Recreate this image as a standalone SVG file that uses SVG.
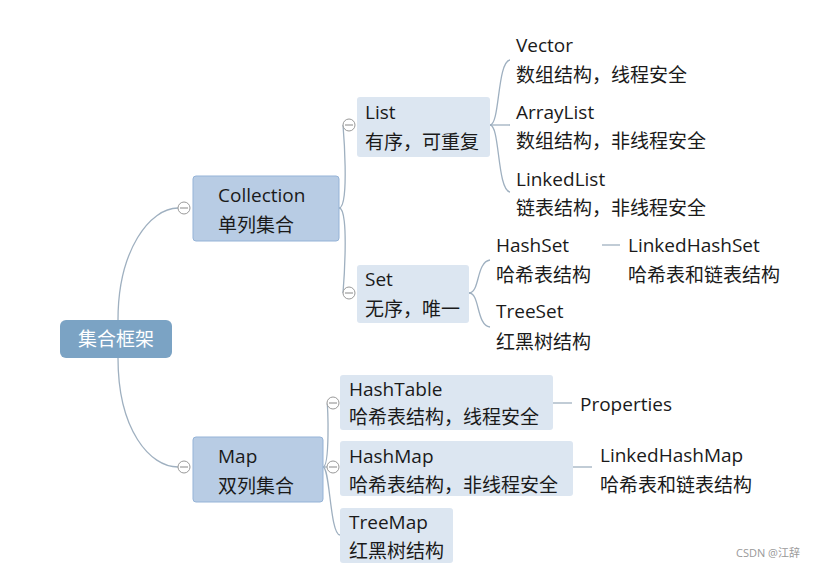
<svg xmlns="http://www.w3.org/2000/svg" width="828" height="569" viewBox="0 0 828 569">
<style>
text{font-family:"Open Sans","Noto Sans CJK SC",sans-serif;font-size:19px;fill:#1a1a1a}
.c{fill:none;stroke:#9fb0c0;stroke-width:1.3}
.b1{fill:#b8cce4;stroke:#95b3d7;stroke-width:1}
.b2{fill:#dce6f1;stroke:none}
.t{fill:#fff;stroke:#999;stroke-width:1}
.tl{stroke:#888;stroke-width:1}
</style>
<rect width="828" height="569" fill="#fff"/>
<g id="connectors">
<path class="c" d="M118,320 C118,250 150,208 178,208"/>
<path class="c" d="M118,358 C118,430 150,467 178,467"/>
<path class="c" d="M339,208 C350,208 343,125 343,125"/>
<path class="c" d="M339,208 C350,208 343,293 343,293"/>
<path class="c" d="M490,125 C500,125 497,62 510,60"/>
<path class="c" d="M490,125 L510,125"/>
<path class="c" d="M490,125 C500,125 497,190 510,192"/>
<path class="c" d="M469,293 C480,293 476,262 490,260"/>
<path class="c" d="M469,293 C480,293 476,325 490,327"/>
<path class="c" d="M602,245 L620,245"/>
<path class="c" d="M323,467 C330,467 328,403 327,403"/>
<path class="c" d="M323,467 L327,467"/>
<path class="c" d="M323,467 C330,467 330,535 340,535"/>
<path class="c" d="M553,403 L572,403"/>
<path class="c" d="M573,467 L592,467"/>
</g>
<g id="root"><rect x="60" y="320" width="112" height="38" rx="6" fill="#7ba3c4"/><text x="116" y="346" text-anchor="middle" style="fill:#fff">集合框架</text></g>
<g id="collection"><rect class="b1" x="193" y="176" width="146" height="65" rx="3"/><text x="218" y="202">Collection</text><text x="218" y="232">单列集合</text></g>
<g id="map"><rect class="b1" x="193" y="437" width="130" height="65" rx="3"/><text x="218" y="463">Map</text><text x="218" y="493">双列集合</text></g>
<g id="list"><rect class="b2" x="357" y="97" width="133" height="60" rx="3"/><text x="365" y="119">List</text><text x="365" y="149">有序，可重复</text></g>
<g id="set"><rect class="b2" x="357" y="265" width="112" height="58" rx="3"/><text x="365" y="286">Set</text><text x="365" y="316">无序，唯一</text></g>
<g id="vector"><text x="516" y="52">Vector</text><text x="516" y="82">数组结构，线程安全</text></g>
<g id="arraylist"><text x="516" y="119">ArrayList</text><text x="516" y="148">数组结构，非线程安全</text></g>
<g id="linkedlist"><text x="516" y="186">LinkedList</text><text x="516" y="215">链表结构，非线程安全</text></g>
<g id="hashset"><text x="496" y="252">HashSet</text><text x="496" y="282">哈希表结构</text></g>
<g id="linkedhashset"><text x="628" y="252">LinkedHashSet</text><text x="628" y="282">哈希表和链表结构</text></g>
<g id="treeset"><text x="496" y="318">TreeSet</text><text x="496" y="349">红黑树结构</text></g>
<g id="hashtable"><rect class="b2" x="340" y="375" width="213" height="55" rx="3"/><text x="349" y="396">HashTable</text><text x="349" y="424">哈希表结构，线程安全</text></g>
<g id="properties"><text x="580" y="411">Properties</text></g>
<g id="hashmap"><rect class="b2" x="340" y="441" width="233" height="55" rx="3"/><text x="349" y="463">HashMap</text><text x="349" y="492">哈希表结构，非线程安全</text></g>
<g id="linkedhashmap"><text x="600" y="462">LinkedHashMap</text><text x="600" y="492">哈希表和链表结构</text></g>
<g id="treemap"><rect class="b2" x="340" y="508" width="113" height="55" rx="3"/><text x="349" y="529">TreeMap</text><text x="349" y="558">红黑树结构</text></g>
<g id="toggles">
<circle class="t" cx="184" cy="208" r="6"/><line class="tl" x1="180" y1="208" x2="188" y2="208"/>
<circle class="t" cx="184" cy="467" r="6"/><line class="tl" x1="180" y1="467" x2="188" y2="467"/>
<circle class="t" cx="349" cy="125" r="6"/><line class="tl" x1="345" y1="125" x2="353" y2="125"/>
<circle class="t" cx="349" cy="293" r="6"/><line class="tl" x1="345" y1="293" x2="353" y2="293"/>
<circle class="t" cx="333" cy="403" r="6"/><line class="tl" x1="329" y1="403" x2="337" y2="403"/>
<circle class="t" cx="333" cy="467" r="6"/><line class="tl" x1="329" y1="467" x2="337" y2="467"/>
</g>
<text x="736" y="557" style="font-size:11px;fill:#999">CSDN @江辞</text>
</svg>
